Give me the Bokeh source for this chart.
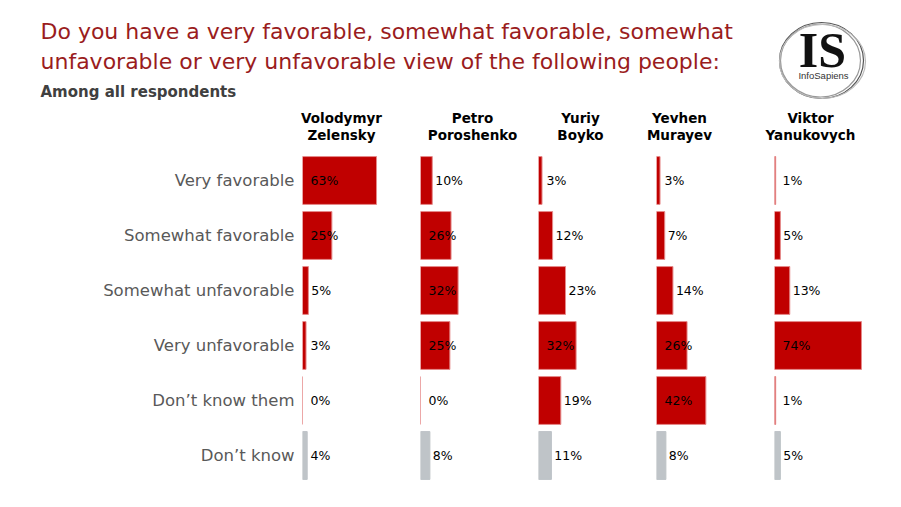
from bokeh.plotting import figure
from bokeh.layouts import column, row
from bokeh.models import Range1d, ColumnDataSource
from bokeh.embed import file_html
from bokeh.resources import INLINE
from bokeh.core.properties import value

# ---------------- data ----------------
categories = ["Very favorable", "Somewhat favorable", "Somewhat unfavorable",
              "Very unfavorable", "Don\u2019t know them", "Don\u2019t know"]
first_names = ["Volodymyr", "Petro", "Yuriy", "Yevhen", "Viktor"]
last_names = ["Zelensky", "Poroshenko", "Boyko", "Murayev", "Yanukovych"]
zelensky = [63, 25, 5, 3, 0, 4]
poroshenko = [10, 26, 32, 25, 0, 8]
boyko = [3, 12, 23, 32, 19, 11]
murayev = [3, 7, 14, 26, 42, 8]
yanukovych = [1, 5, 13, 74, 1, 5]
series = [zelensky, poroshenko, boyko, murayev, yanukovych]

title_lines = ["Do you have a very favorable, somewhat favorable, somewhat",
               "unfavorable or very unfavorable view of the following people:"]
subtitle = "Among all respondents"

# ---------------- style ----------------
RED = "#C00000"
RED_EDGE = "#E58A8A"
GREY = "#BFC4C8"
TITLE_RED = "#9A1C20"
FONT = "DejaVu Sans"

PX_PER_PCT = 1.175
PANEL_W = 118
LABEL_W = 302
TOTAL_W = LABEL_W + 5 * PANEL_W
HEADER_H = 145
BODY_H = 354
Y_RANGE = (5.8, -0.636)
name_x = [341, 472, 580, 679, 810]


def clean(p):
    p.xgrid.visible = False
    p.ygrid.visible = False
    p.outline_line_color = None
    p.min_border = 0
    p.background_fill_color = "white"
    p.border_fill_color = "white"
    return p


# ---------------- header ----------------
header = figure(width=TOTAL_W, height=HEADER_H, output_backend="svg", title=None,
                toolbar_location=None, x_range=Range1d(0, TOTAL_W),
                y_range=Range1d(HEADER_H, 0), x_axis_location=None, y_axis_location=None)
clean(header)
header.text(x=[40, 40], y=[31, 60.5], text=title_lines, text_font=value(FONT),
            text_font_size="22px", text_color=TITLE_RED, text_baseline="middle")
header.text(x=[40], y=[91.5], text=[subtitle], text_font=value(FONT),
            text_font_size="15px", text_font_style="bold", text_color="#404040",
            text_baseline="middle")
# column headers
header.text(x=name_x, y=[117] * 5, text=first_names, text_font=value(FONT),
            text_font_size="13.5px", text_font_style="bold", text_color="black",
            text_align="center", text_baseline="middle")
header.text(x=name_x, y=[134.5] * 5, text=last_names, text_font=value(FONT),
            text_font_size="13.5px", text_font_style="bold", text_color="black",
            text_align="center", text_baseline="middle")
# logo
header.ellipse(x=[821, 820, 822], y=[60, 60, 61], width=[84, 80, 86], height=[76, 73, 74],
               fill_color=None, line_color=["#555555", "#999999", "#bbbbbb"], line_width=1.2)
header.text(x=[822], y=[49], text=["IS"], text_font=value("Liberation Serif"),
            text_font_size="50px", text_font_style="bold", text_color="#111111",
            text_align="center", text_baseline="middle")
header.text(x=[823], y=[74.5], text=["InfoSapiens"], text_font=value("Liberation Sans"),
            text_font_size="9.5px", text_color="#333333",
            text_align="center", text_baseline="middle")

# ---------------- row labels ----------------
labels_fig = figure(width=LABEL_W, height=BODY_H, output_backend="svg", title=None,
                    toolbar_location=None,
                    x_range=Range1d(0, LABEL_W), y_range=Range1d(*Y_RANGE),
                    x_axis_location=None, y_axis_location=None)
clean(labels_fig)
labels_fig.text(x=[294] * len(categories), y=list(range(len(categories))), text=categories,
                text_font=value(FONT), text_font_size="16.5px", text_color="#595959",
                text_align="right", text_baseline="middle")

# ---------------- panels ----------------
panels = []
for i, vals in enumerate(series):
    p = figure(width=PANEL_W, height=BODY_H, output_backend="svg", title=None,
               toolbar_location=None,
               x_range=Range1d(0, PANEL_W / PX_PER_PCT), y_range=Range1d(*Y_RANGE),
               x_axis_location=None, y_axis_location=None)
    clean(p)
    ys = list(range(len(vals)))
    colors = [RED] * (len(vals) - 1) + [GREY]
    edges = [RED_EDGE] * (len(vals) - 1) + [GREY]
    src = ColumnDataSource(dict(y=ys, right=vals, fill=colors, edge=edges,
                                lx=[6.8 if v >= 25 else max(6.8, v + 2.5) for v in vals],
                                lab=[f"{v}%" for v in vals]))
    p.hbar(y="y", left=0, right="right", height=0.87, fill_color="fill",
           line_color="edge", line_width=1, source=src)
    p.text(x="lx", y="y", text="lab", text_font=value(FONT), text_font_size="12.5px",
           text_color="black", text_baseline="middle", source=src)
    panels.append(p)

layout = column(header, row(labels_fig, *panels, spacing=0), spacing=0)

open("out.html", "w").write(file_html(layout, INLINE))
